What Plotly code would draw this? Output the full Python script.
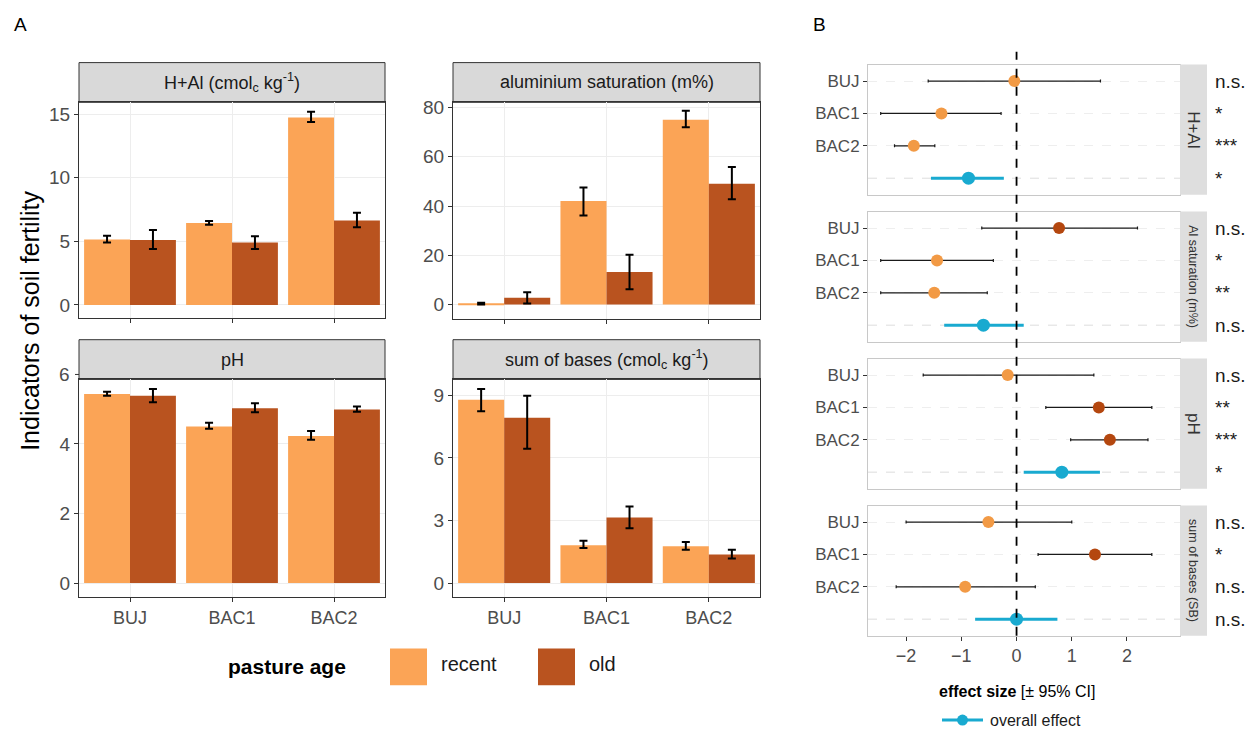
import plotly.graph_objects as go

FONT = "Liberation Sans, Arial, sans-serif"
W, H = 1253, 732

# ---------------- data ----------------
sites = ["BUJ", "BAC1", "BAC2"]
ages = ["recent", "old"]

hal_recent = [5.15, 6.45, 14.75]
hal_recent_lo = [4.9, 6.3, 14.4]
hal_recent_hi = [5.45, 6.6, 15.2]
hal_old = [5.1, 4.9, 6.65]
hal_old_lo = [4.4, 4.4, 6.1]
hal_old_hi = [5.9, 5.4, 7.25]

als_recent = [0.3, 42.0, 75.0]
als_recent_lo = [0.0, 36.2, 72.0]
als_recent_hi = [0.7, 47.5, 78.7]
als_old = [2.8, 13.2, 49.0]
als_old_lo = [0.4, 6.2, 42.8]
als_old_hi = [5.0, 20.2, 55.8]

ph_recent = [5.44, 4.5, 4.23]
ph_recent_lo = [5.39, 4.44, 4.12]
ph_recent_hi = [5.5, 4.61, 4.37]
ph_old = [5.39, 5.03, 4.99]
ph_old_lo = [5.2, 4.91, 4.93]
ph_old_hi = [5.58, 5.17, 5.08]

sb_recent = [8.79, 1.81, 1.76]
sb_recent_lo = [8.24, 1.68, 1.6]
sb_recent_hi = [9.3, 2.03, 1.97]
sb_old = [7.92, 3.14, 1.37]
sb_old_lo = [6.44, 2.63, 1.18]
sb_old_hi = [8.98, 3.67, 1.6]

bar_titles = ["H+Al (cmol<sub>c</sub> kg<sup>-1</sup>)", "aluminium saturation (m%)",
              "pH", "sum of bases (cmol<sub>c</sub> kg<sup>-1</sup>)"]

# forest plot data (effect size, CI low, CI high)
rows = ["BUJ", "BAC1", "BAC2"]
overall_row = "overall"
forest_titles = ["H+Al", "Al saturation (m%)", "pH", "sum of bases (SB)"]

hal_es = [-0.04, -1.36, -1.86]
hal_lo = [-1.6, -2.46, -2.21]
hal_hi = [1.52, -0.28, -1.48]
hal_ov = [-0.87, -1.55, -0.23]
hal_sig = ["n.s.", "*", "***", "*"]

als_es = [0.77, -1.44, -1.49]
als_lo = [-0.63, -2.46, -2.46]
als_hi = [2.19, -0.42, -0.53]
als_ov = [-0.6, -1.31, 0.13]
als_sig = ["n.s.", "*", "**", "n.s."]

ph_es = [-0.16, 1.49, 1.69]
ph_lo = [-1.69, 0.53, 0.98]
ph_hi = [1.4, 2.45, 2.38]
ph_ov = [0.82, 0.13, 1.51]
ph_sig = ["n.s.", "**", "***", "*"]

sb_es = [-0.51, 1.42, -0.93]
sb_lo = [-2.0, 0.39, -2.18]
sb_hi = [1.0, 2.45, 0.34]
sb_ov = [0.0, -0.75, 0.74]
sb_sig = ["n.s.", "*", "n.s.", "n.s."]

x_ticks_b = [-2, -1, 0, 1, 2]

# ---------------- styles ----------------
C_RECENT = "#FBA456"
C_OLD = "#B9531F"
C_PT_NEG = "#F29A45"
C_PT_POS = "#B4470F"
C_CYAN = "#19AAD0"
C_STRIP = "#D9D9D9"
C_BORDER = "#333333"
C_GRID = "#EDEDED"
C_TICK = "#4D4D4D"


def px(x):
    return x / W


def py(y):
    return 1 - y / H


fig = go.Figure()

# ---------------- Panel A ----------------
bar_sets = [
    (hal_recent, hal_recent_lo, hal_recent_hi, hal_old, hal_old_lo, hal_old_hi),
    (als_recent, als_recent_lo, als_recent_hi, als_old, als_old_lo, als_old_hi),
    (ph_recent, ph_recent_lo, ph_recent_hi, ph_old, ph_old_lo, ph_old_hi),
    (sb_recent, sb_recent_lo, sb_recent_hi, sb_old, sb_old_lo, sb_old_hi),
]
bar_xdom = [(79, 385), (453, 760), (79, 385), (453, 760)]
bar_ydom = [(98, 315), (98, 316), (377, 596), (377, 596)]
strip_y = [(58, 98), (58, 98), (337, 377), (337, 377)]
bar_ranges = [[-1.02, 15.94], [-5.8, 82.1], [-0.4, 5.857], [-0.667, 9.76]]
bar_ticks = [[0, 5, 10, 15], [0, 20, 40, 60, 80], [0, 2, 4], [0, 3, 6, 9]]

shapes = []
annotations = []

for i, (r, rlo, rhi, o, olo, ohi) in enumerate(bar_sets):
    n = i + 1
    xa = "x" if n == 1 else f"x{n}"
    ya = "y" if n == 1 else f"y{n}"
    for name, vals, lo, hi, col in [("recent", r, rlo, rhi, C_RECENT), ("old", o, olo, ohi, C_OLD)]:
        fig.add_trace(go.Bar(
            x=sites, y=vals, name=name, marker=dict(color=col, line=dict(width=0)),
            offsetgroup=name, legendgroup=name, showlegend=False,
            error_y=dict(type="data", symmetric=False,
                         array=[h - v for h, v in zip(hi, vals)],
                         arrayminus=[v - l for v, l in zip(vals, lo)],
                         color="black", thickness=2, width=4),
            xaxis=xa, yaxis=ya,
        ))
    x0, x1 = bar_xdom[i]
    y0, y1 = bar_ydom[i]
    axkey = "xaxis" if n == 1 else f"xaxis{n}"
    aykey = "yaxis" if n == 1 else f"yaxis{n}"
    fig.layout[axkey] = dict(
        domain=[px(x0), px(x1)], anchor=ya, showline=True, linecolor=C_BORDER, mirror=True,
        linewidth=1, ticks="outside", ticklen=4, tickcolor=C_BORDER,
        showticklabels=(i >= 2), tickfont=dict(size=18, color=C_TICK, family=FONT),
        showgrid=True, gridcolor=C_GRID, categoryorder="array", categoryarray=sites,
        zeroline=False,
    )
    fig.layout[aykey] = dict(
        domain=[py(y1), py(y0)], anchor=xa, range=bar_ranges[i], tickvals=bar_ticks[i],
        showline=True, linecolor=C_BORDER, mirror=True, linewidth=1,
        ticks="outside", ticklen=4, tickcolor=C_BORDER,
        tickfont=dict(size=19, color=C_TICK, family=FONT),
        showgrid=True, gridcolor=C_GRID, zeroline=False,
    )
    sy0, sy1 = strip_y[i]
    shapes.append(dict(type="rect", xref="paper", yref="paper",
                       x0=px(x0), x1=px(x1), y0=py(sy1), y1=py(sy0),
                       fillcolor=C_STRIP, line=dict(color=C_BORDER, width=1), layer="below"))
    annotations.append(dict(text=bar_titles[i], xref="paper", yref="paper",
                            x=px((x0 + x1) / 2), y=py((sy0 + sy1) / 2), showarrow=False,
                            font=dict(size=18, color="#1A1A1A", family=FONT),
                            xanchor="center", yanchor="middle"))

# pH "6" tick drawn above the panel as in the reference
annotations.append(dict(text="6", xref="paper", yref="paper", x=px(72), y=py(372),
                        showarrow=False, xanchor="right", yanchor="middle",
                        font=dict(size=19, color=C_TICK, family=FONT)))
shapes.append(dict(type="line", xref="paper", yref="paper", x0=px(75), x1=px(79),
                   y0=py(372), y1=py(372), line=dict(color=C_BORDER, width=1)))

annotations.append(dict(text="Indicators of soil fertility", xref="paper", yref="paper",
                        x=px(30), y=py(318), textangle=-90, showarrow=False,
                        font=dict(size=25, color="black", family=FONT),
                        xanchor="center", yanchor="middle"))
annotations.append(dict(text="A", xref="paper", yref="paper", x=px(12), y=py(20),
                        showarrow=False, xanchor="left", yanchor="middle",
                        font=dict(size=19, color="black", family=FONT)))
annotations.append(dict(text="B", xref="paper", yref="paper", x=px(811), y=py(20),
                        showarrow=False, xanchor="left", yanchor="middle",
                        font=dict(size=19, color="black", family=FONT)))

# Legend for panel A (drawn as annotations/shapes)
annotations.append(dict(text="<b>pasture age</b>", xref="paper", yref="paper", x=px(226),
                        y=py(666), showarrow=False, xanchor="left", yanchor="middle",
                        font=dict(size=21, color="black", family=FONT)))
for lx, lab, col in [(390, ages[0], C_RECENT), (538, ages[1], C_OLD)]:
    shapes.append(dict(type="rect", xref="paper", yref="paper", x0=px(lx), x1=px(lx + 37),
                       y0=py(685), y1=py(648), fillcolor=col, line=dict(width=0)))
    annotations.append(dict(text=lab, xref="paper", yref="paper", x=px(lx + 49), y=py(664),
                            showarrow=False, xanchor="left", yanchor="middle",
                            font=dict(size=20, color="#1A1A1A", family=FONT)))

# ---------------- Panel B ----------------
forest_sets = [
    (hal_es, hal_lo, hal_hi, hal_ov, hal_sig),
    (als_es, als_lo, als_hi, als_ov, als_sig),
    (ph_es, ph_lo, ph_hi, ph_ov, ph_sig),
    (sb_es, sb_lo, sb_hi, sb_ov, sb_sig),
]
fy = [(60, 191), (208, 339), (356, 487), (504, 635)]
fx0, fx1, sx1 = 868, 1180, 1207
cats = rows + [overall_row]

for j, (es, lo, hi, ov, sig) in enumerate(forest_sets):
    n = 5 + j
    xa, ya = f"x{n}", f"y{n}"
    # grey dashed row line for the overall row
    shapes.append(dict(type="line", xref=f"x{n} domain", yref=ya, x0=0, x1=1,
                       y0=overall_row, y1=overall_row,
                       line=dict(color="#DDDDDD", width=1, dash="dash"), layer="below"))
    fig.add_trace(go.Scatter(
        x=es, y=rows, mode="markers",
        marker=dict(size=12, color=[C_PT_POS if v > 0 else C_PT_NEG for v in es]),
        error_x=dict(type="data", symmetric=False,
                     array=[h - v for h, v in zip(hi, es)],
                     arrayminus=[v - l for v, l in zip(es, lo)],
                     color="#1A1A1A", thickness=1.2, width=1.5),
        showlegend=False, xaxis=xa, yaxis=ya,
    ))
    fig.add_trace(go.Scatter(
        x=[ov[0]], y=[overall_row], mode="markers",
        marker=dict(size=13, color=C_CYAN),
        error_x=dict(type="data", symmetric=False, array=[ov[2] - ov[0]],
                     arrayminus=[ov[0] - ov[1]], color=C_CYAN, thickness=3, width=0),
        showlegend=False, xaxis=xa, yaxis=ya,
    ))
    y0, y1 = fy[j]
    fig.layout[f"xaxis{n}"] = dict(
        domain=[px(fx0), px(fx1)], anchor=ya, range=[-2.69, 2.96], tickvals=x_ticks_b,
        showticklabels=(j == 3), ticks="outside" if j == 3 else "", ticklen=4,
        tickcolor=C_BORDER, tickfont=dict(size=18, color=C_TICK, family=FONT),
        showline=True, linecolor="#C8C8C8", mirror=True, showgrid=False, zeroline=False,
    )
    fig.layout[f"yaxis{n}"] = dict(
        domain=[py(y1), py(y0)], anchor=xa, type="category", categoryorder="array",
        categoryarray=cats, range=[3.51, -0.51], tickvals=rows, ticktext=rows,
        ticks="outside", ticklen=4, tickcolor=C_BORDER,
        tickfont=dict(size=17, color=C_TICK, family=FONT),
        showline=True, linecolor="#C8C8C8", mirror=True,
        showgrid=True, gridcolor="#EEEEEE", griddash="dash", zeroline=False,
    )
    # strip on the right
    shapes.append(dict(type="rect", xref="paper", yref="paper", x0=px(fx1), x1=px(sx1),
                       y0=py(y1), y1=py(y0), fillcolor="#DEDEDE", line=dict(width=0)))
    fsize = 17 if len(forest_titles[j]) < 6 else 12.5
    annotations.append(dict(text=forest_titles[j], xref="paper", yref="paper",
                            x=px((fx1 + sx1) / 2), y=py((y0 + y1) / 2), textangle=90,
                            showarrow=False, xanchor="center", yanchor="middle",
                            font=dict(size=fsize, color="#333333", family=FONT)))
    for c, s in zip(cats, sig):
        annotations.append(dict(text=s, xref="paper", yref=ya, x=px(1213), y=c,
                                showarrow=False, xanchor="left", yanchor="middle",
                                font=dict(size=19, color="#1A1A1A", family=FONT)))

# dashed vertical zero line spanning panel B
shapes.append(dict(type="line", xref="x8", yref="paper", x0=0, x1=0, y0=py(635), y1=py(47),
                   line=dict(color="black", width=1.8, dash="dash")))

annotations.append(dict(text="<b>effect size</b> [± 95% CI]", xref="paper", yref="paper",
                        x=px(1017), y=py(691), showarrow=False, xanchor="center",
                        yanchor="middle", font=dict(size=16, color="black", family=FONT)))
# overall effect legend
shapes.append(dict(type="line", xref="paper", yref="paper", x0=px(942), x1=px(983),
                   y0=py(720), y1=py(720), line=dict(color=C_CYAN, width=3)))
shapes.append(dict(type="circle", xref="paper", yref="paper", x0=px(957), x1=px(968),
                   y0=py(725.5), y1=py(714.5), fillcolor=C_CYAN, line=dict(width=0)))
annotations.append(dict(text="overall effect", xref="paper", yref="paper", x=px(988),
                        y=py(720), showarrow=False, xanchor="left", yanchor="middle",
                        font=dict(size=16, color="#1A1A1A", family=FONT)))

fig.update_layout(
    width=W, height=H, margin=dict(l=0, r=0, t=0, b=0),
    paper_bgcolor="white", plot_bgcolor="white",
    barmode="group", bargap=0.1, bargroupgap=0,
    font=dict(family=FONT), showlegend=False,
    shapes=shapes, annotations=annotations,
)

fig.write_html("out.html")
